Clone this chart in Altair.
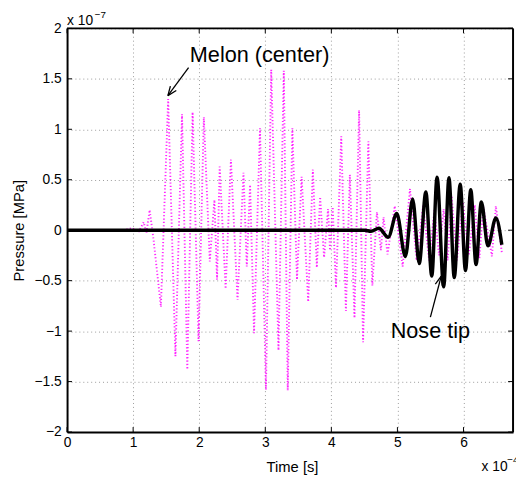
import math
import altair as alt
import pandas as pd

# ---- data (time in 1e-4 s, pressure in 1e-7 MPa) ----
mag_time = [0.85, 0.99, 1.08, 1.16, 1.20, 1.25, 1.31, 1.42, 1.53, 1.64, 1.74, 1.82, 1.90, 1.99, 2.07,
            2.16, 2.23, 2.27, 2.31, 2.40, 2.48, 2.58, 2.67, 2.72, 2.77, 2.83, 2.92, 3.01, 3.09, 3.20, 3.28,
            3.34, 3.41, 3.48, 3.55, 3.65, 3.72, 3.78, 3.83, 3.89, 3.95, 3.98, 4.02, 4.07, 4.15, 4.22, 4.28,
            4.35, 4.42, 4.48, 4.56, 4.62, 4.69, 4.75, 4.79, 4.85, 4.96, 5.08, 5.19, 5.29, 5.39, 5.48, 5.56,
            5.63, 5.70, 5.76, 5.82, 5.90, 5.99, 6.08, 6.17, 6.24, 6.30, 6.43, 6.49, 6.58]
mag_pressure = [0.0, 0.02, -0.02, 0.08, -0.03, 0.20, -0.10, -0.76, 1.30, -1.25, 1.15, -1.38, 1.17, -1.10, 1.12,
                -0.31, 0.30, -0.49, 0.63, -0.58, 0.70, -0.69, 0.57, -0.36, 0.45, -1.02, 1.01, -1.58, 1.59, -1.19, 1.58,
                -1.59, 1.01, -0.49, 0.53, -0.71, 0.60, -0.37, 0.33, -0.27, 0.21, -0.20, 0.23, -0.57, 0.93, -0.80, 0.55,
                -0.87, 1.19, -1.11, 0.88, -0.55, 0.18, -0.20, 0.13, -0.24, 0.24, -0.36, 0.41, -0.30, 0.25, -0.30, 0.20,
                -0.25, 0.21, -0.30, 0.34, -0.30, 0.28, -0.25, 0.25, -0.28, 0.23, -0.26, 0.24, -0.22]

nose_time = [0, 4.50, 4.60, 4.72, 4.86, 4.99, 5.12, 5.23, 5.33, 5.43, 5.52, 5.60, 5.70, 5.78, 5.86,
             5.95, 6.03, 6.11, 6.19, 6.27, 6.37, 6.49, 6.58]
nose_pressure = [0, 0, -0.01, 0.02, -0.07, 0.165, -0.26, 0.31, -0.33, 0.38, -0.455, 0.525, -0.56, 0.52, -0.47,
                 0.455, -0.40, 0.40, -0.34, 0.28, -0.155, 0.12, -0.145]

x_ticks = [0, 1, 2, 3, 4, 5, 6]
y_ticks = [-2, -1.5, -1, -0.5, 0, 0.5, 1, 1.5, 2]

labels = ["Melon (center)", "Nose tip"]
label_time = [1.858, 4.898]
label_pressure = [1.668, -1.073]
arrow_tail = [(1.839, 1.61), (5.499, -0.861)]
arrow_tip = [(1.526, 1.334), (5.663, -0.456)]

# ---- layout ----
W, H = 453, 410
X_DOM = [0, 6.75]
Y_DOM = [-2, 2]
FONT = "Liberation Sans"
xs = alt.Scale(domain=X_DOM, nice=False, zero=False)
ys = alt.Scale(domain=Y_DOM, nice=False, zero=False)

mag_df = pd.DataFrame({"t": mag_time, "p": mag_pressure})
nose_df = pd.DataFrame({"t": nose_time, "p": nose_pressure})

x_axis = alt.Axis(values=x_ticks, format="~g", title="Time [s]", grid=True, gridColor="#9a9a9a",
                  gridDash=[1, 3], gridWidth=1, ticks=False, domain=True, domainColor="black",
                  domainWidth=2, labelPadding=4,
                  labelFont=FONT, labelFontSize=14, labelColor="black", labelFlush=False,
                  labelOverlap=False, titleFont=FONT, titleFontSize=15, titleFontWeight="normal",
                  titleColor="black", titleX=W / 2 + 2, titleY=28)
y_axis = alt.Axis(values=y_ticks, format="~g", title="Pressure [MPa]", grid=True, gridColor="#9a9a9a",
                  gridDash=[1, 3], gridWidth=1, ticks=False, domain=True, domainColor="black",
                  domainWidth=2, labelPadding=6,
                  labelFont=FONT, labelFontSize=14, labelColor="black", labelFlush=False,
                  labelOverlap=False, titleFont=FONT, titleFontSize=15, titleFontWeight="normal",
                  titleColor="black", titleX=-41, titleY=H / 2)

X = lambda f: alt.X(f, scale=xs, axis=x_axis)
Y = lambda f: alt.Y(f, scale=ys, axis=y_axis)

mag = alt.Chart(mag_df).mark_line(color="#ff00ff", strokeWidth=1.9, strokeDash=[1.2, 2.2],
                                  opacity=0.85).encode(x=X("t:Q"), y=Y("p:Q"))

nose = alt.Chart(nose_df).mark_line(color="black", strokeWidth=3.5, interpolate="monotone").encode(
    x=X("t:Q"), y=Y("p:Q"))

# inward tick marks (MATLAB style) and top/right box edges
xt_df = pd.DataFrame({"t": x_ticks})
yt_df = pd.DataFrame({"p": y_ticks})
tick_style = dict(color="black", strokeWidth=1)
xt_bottom = alt.Chart(xt_df).mark_rule(**tick_style).encode(
    x=X("t:Q"), y=alt.value(H), y2=alt.value(H - 5))
xt_top = alt.Chart(xt_df).mark_rule(**tick_style).encode(
    x=X("t:Q"), y=alt.value(0), y2=alt.value(5))
yt_left = alt.Chart(yt_df).mark_rule(**tick_style).encode(
    y=Y("p:Q"), x=alt.value(0), x2=alt.value(5))
yt_right = alt.Chart(yt_df).mark_rule(**tick_style).encode(
    y=Y("p:Q"), x=alt.value(W - 5), x2=alt.value(W))

one = pd.DataFrame({"a": [0]})
top_edge = alt.Chart(one).mark_rule(color="black", strokeWidth=2).encode(
    x=alt.value(0), x2=alt.value(W), y=alt.value(0))
right_edge = alt.Chart(one).mark_rule(color="black", strokeWidth=2).encode(
    x=alt.value(W), y=alt.value(0), y2=alt.value(H))

# arrows
PX_X = W / (X_DOM[1] - X_DOM[0])
PX_Y = H / (Y_DOM[1] - Y_DOM[0])
segs = []
for tail, tip in zip(arrow_tail, arrow_tip):
    segs.append({"x": tail[0], "y": tail[1], "x2": tip[0], "y2": tip[1]})
    dx = (tail[0] - tip[0]) * PX_X
    dy = -(tail[1] - tip[1]) * PX_Y
    L = math.hypot(dx, dy)
    ux, uy = dx / L, dy / L
    for s in (1, -1):
        a = math.radians(s * 22)
        rx = ux * math.cos(a) - uy * math.sin(a)
        ry = ux * math.sin(a) + uy * math.cos(a)
        segs.append({"x": tip[0], "y": tip[1],
                     "x2": tip[0] + rx * 10 / PX_X, "y2": tip[1] - ry * 10 / PX_Y})
arrow_df = pd.DataFrame(segs)
arrows = alt.Chart(arrow_df).mark_rule(color="black", strokeWidth=1.3).encode(
    x=X("x:Q"), y=Y("y:Q"), x2="x2:Q", y2="y2:Q")

lab_df = pd.DataFrame({"label": labels, "t": label_time, "p": label_pressure})
texts = alt.Chart(lab_df).mark_text(font=FONT, fontSize=22, align="left", baseline="alphabetic",
                                    color="black").encode(
    x=X("t:Q"), y=Y("p:Q"), text="label:N")


def txt(s, x, y, size):
    return alt.Chart(one).mark_text(font=FONT, fontSize=size, align="left", baseline="alphabetic",
                                    color="black").encode(x=alt.value(x), y=alt.value(y), text=alt.value(s))


exp_y = [txt("x 10", 0, -3, 14), txt("\u22127", 28, -11, 10)]
exp_x = [txt("x 10", 421, 450, 14), txt("\u22124", 447, 441, 10)]

chart = alt.layer(mag, nose, xt_bottom, xt_top, yt_left, yt_right, top_edge, right_edge,
                  arrows, texts, *exp_y, *exp_x).properties(
    width=W, height=H,
    autosize=alt.AutoSizeParams(type="none"),
    padding={"left": 60, "top": 17, "right": 3, "bottom": 43},
).configure_view(stroke=None).configure(background="white")

chart.save("out.html", embed_options={"renderer": "svg", "actions": False})
